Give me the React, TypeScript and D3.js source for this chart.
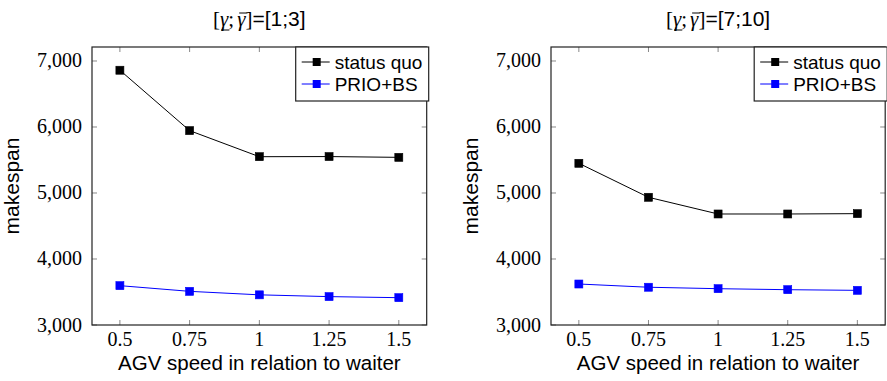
import React, { useLayoutEffect, useRef, useState } from "react";
import * as d3 from "d3";

// x values (AGV speed relative to waiter)
const speeds = [0.5, 0.75, 1, 1.25, 1.5];
const speedLabels = ["0.5", "0.75", "1", "1.25", "1.5"];
const makespanTicks = [3000, 4000, 5000, 6000, 7000];

// panel 1: [1;3]
const statusQuoLow = [6860, 5945, 5550, 5552, 5540];
const prioLow = [3596, 3510, 3457, 3430, 3414];
// panel 2: [7;10]
const statusQuoHigh = [5450, 4935, 4682, 4682, 4687];
const prioHigh = [3621, 3572, 3550, 3535, 3525];

const seriesNames = ["status quo", "PRIO+BS"];
const seriesColors = ["#000000", "#0000ff"];

const SERIF = "'Liberation Serif', 'Times New Roman', serif";
const SANS = "'Liberation Sans', Arial, sans-serif";

const TOP = 47;
const BOTTOM = 325;

function Title({ cx, range }: { cx: number; range: string }) {
  const ref = useRef<SVGTextElement>(null);
  const [bars, setBars] = useState<{ x1: number; x2: number; y: number }[]>([]);

  useLayoutEffect(() => {
    const t = ref.current;
    if (!t) return;
    const a1 = t.getStartPositionOfChar(1).x;
    const a2 = t.getEndPositionOfChar(1).x;
    const b1 = t.getStartPositionOfChar(3).x;
    const b2 = t.getEndPositionOfChar(3).x;
    setBars([
      { x1: a1 + 1, x2: a2 + 1, y: 30 },
      { x1: b1 + 2, x2: b2 + 2, y: 13 },
    ]);
  }, [cx, range]);

  return (
    <g>
      <text ref={ref} x={cx} y={26} textAnchor="middle" fontSize={21} fill="#000">
        <tspan fontFamily={SERIF}>[</tspan>
        <tspan fontFamily={SERIF} fontStyle="italic">γ</tspan>
        <tspan fontFamily={SERIF}>;</tspan>
        <tspan fontFamily={SERIF} fontStyle="italic" dx={3}>γ</tspan>
        <tspan fontFamily={SERIF}>]</tspan>
        <tspan fontFamily={SANS}>={range}</tspan>
      </text>
      {bars.map((b, i) => (
        <line key={i} x1={b.x1} x2={b.x2} y1={b.y} y2={b.y} stroke="#000" strokeWidth={1} />
      ))}
    </g>
  );
}

function Panel({
  left,
  right,
  range,
  series,
}: {
  left: number;
  right: number;
  range: string;
  series: number[][];
}) {
  const x = d3.scaleLinear().domain([0.4, 1.6]).range([left, right]);
  const y = d3.scaleLinear().domain([3000, 7212]).range([BOTTOM, TOP]);
  const fmt = d3.format(",");
  const line = d3
    .line<number>()
    .x((_, i) => x(speeds[i]))
    .y((d) => y(d));

  const legW = 133;
  const legH = 54;
  const lx = right + 2 - legW;
  const ly = TOP;
  const ms = 8;

  return (
    <g>
      <Title cx={(left + right) / 2} range={range} />

      {/* ticks on all sides */}
      {speeds.map((s, i) => (
        <g key={"xt" + i} stroke="#888" strokeWidth={1}>
          <line x1={x(s)} x2={x(s)} y1={BOTTOM} y2={BOTTOM - 5} />
          <line x1={x(s)} x2={x(s)} y1={TOP} y2={TOP + 5} />
        </g>
      ))}
      {makespanTicks.map((t, i) => (
        <g key={"yt" + i} stroke="#888" strokeWidth={1}>
          <line x1={left} x2={left + 5} y1={y(t)} y2={y(t)} />
          <line x1={right} x2={right - 5} y1={y(t)} y2={y(t)} />
        </g>
      ))}

      <rect
        x={left}
        y={TOP}
        width={right - left}
        height={BOTTOM - TOP}
        fill="none"
        stroke="#222"
        strokeWidth={1.2}
      />

      {speeds.map((s, i) => (
        <text
          key={"xl" + i}
          x={x(s)}
          y={346}
          textAnchor="middle"
          fontFamily={SERIF}
          fontSize={20}
          fill="#000"
        >
          {speedLabels[i]}
        </text>
      ))}
      {makespanTicks.map((t, i) => (
        <text
          key={"yl" + i}
          x={left - 10}
          y={y(t) + 6.5}
          textAnchor="end"
          fontFamily={SERIF}
          fontSize={20}
          fill="#000"
        >
          {fmt(t)}
        </text>
      ))}

      <text
        x={(left + right) / 2}
        y={370}
        textAnchor="middle"
        fontFamily={SANS}
        fontSize={20.5}
        fill="#000"
      >
        AGV speed in relation to waiter
      </text>
      <text
        transform={`translate(${left - 73},${(TOP + BOTTOM) / 2}) rotate(-90)`}
        textAnchor="middle"
        fontFamily={SANS}
        fontSize={21}
        fill="#000"
      >
        makespan
      </text>

      {series.map((vals, si) => (
        <g key={"s" + si}>
          <path d={line(vals) || ""} fill="none" stroke={seriesColors[si]} strokeWidth={1} />
          {vals.map((v, i) => (
            <rect
              key={i}
              x={x(speeds[i]) - ms / 2}
              y={y(v) - ms / 2}
              width={ms}
              height={ms}
              fill={seriesColors[si]}
              stroke={seriesColors[si]}
              strokeWidth={0.6}
            />
          ))}
        </g>
      ))}

      {/* legend */}
      <rect x={lx} y={ly} width={legW} height={legH} fill="#fff" stroke="#222" strokeWidth={1.2} />
      {seriesNames.map((name, i) => {
        const cy = ly + 15 + i * 22;
        return (
          <g key={"lg" + i}>
            <line x1={lx + 6} x2={lx + 34} y1={cy} y2={cy} stroke={seriesColors[i]} strokeWidth={1} />
            <rect
              x={lx + 21 - ms / 2}
              y={cy - ms / 2}
              width={ms}
              height={ms}
              fill={seriesColors[i]}
            />
            <text x={lx + 39} y={cy + 6.5} fontFamily={SANS} fontSize={19} fill="#000">
              {name}
            </text>
          </g>
        );
      })}
    </g>
  );
}

export default function App() {
  return (
    <svg
      width={887}
      height={381}
      style={{ position: "absolute", left: 0, top: 0, background: "#fff" }}
    >
      <Panel left={92} right={426.7} range="[1;3]" series={[statusQuoLow, prioLow]} />
      <Panel left={551} right={885.2} range="[7;10]" series={[statusQuoHigh, prioHigh]} />
    </svg>
  );
}
